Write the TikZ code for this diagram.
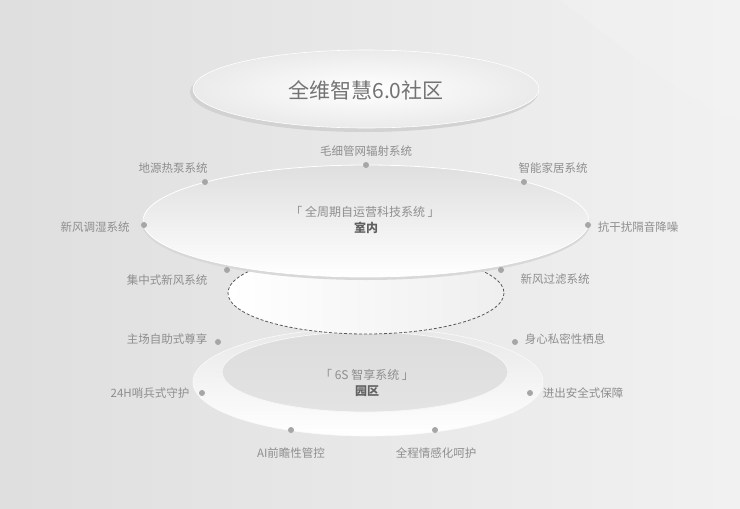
\documentclass[tikz,border=0pt]{standalone}
\usepackage{fontspec}
\newfontfamily\cjk{Noto Sans CJK SC}
\usetikzlibrary{calc}
\definecolor{bggray}{HTML}{E8E8E8}
\definecolor{txtgray}{HTML}{8E8E8E}
\definecolor{dotgray}{HTML}{A6A6A6}
\definecolor{rimgray}{HTML}{D2D2D2}
\tikzset{
  lbl/.style={font=\cjk\fontsize{11.5}{13}\selectfont, text=txtgray, inner sep=0pt},
  dotp/.style={circle, fill=dotgray, minimum size=6pt, inner sep=0pt},
}

\begin{document}
\begin{tikzpicture}[x=1pt, y=-1pt]
			%%%%% START %%%%%
			\useasboundingbox (0, 0) rectangle (740, 509);
			\shade[left color=bggray!96!black, right color=bggray!60!white] (0, 0) rectangle (740, 509);
			\fill[white, opacity=0.12] (560, 0) .. controls (640, 60) and (700, 110) .. (740, 120) -- (740, 0) -- cycle;
			
			%% lower ring (park)
			\shade[top color=bggray, bottom color=white] (368, 382) ellipse [x radius=175, y radius=54];
			\draw[white!80!bggray, line width=0.6pt] (368, 382) ellipse [x radius=175, y radius=54];
			\shade[top color=bggray!95!black, bottom color=bggray!98!black] (365, 372) ellipse [x radius=143, y radius=40];
			\draw[white!60!bggray, line width=0.8pt] (365, 372) ellipse [x radius=143, y radius=40];
			
			%% dashed cylinder body
			\shade[left color=white, middle color=bggray!45!white, right color=bggray!70!white] (366, 293) ellipse [x radius=138, y radius=41];
			\draw[black!65, line width=0.8pt, dash pattern=on 3pt off 2pt] (366, 293) ellipse [x radius=138, y radius=41];
			
			%% main ellipse (indoor)
			\fill[rimgray!70!bggray] (366, 223) ellipse [x radius=224, y radius=57];
			\shade[top color=bggray!96!black, bottom color=white] (366, 221) ellipse [x radius=223, y radius=56];
			\draw[white, line width=0.8pt] (366, 221) ellipse [x radius=223, y radius=56];
			
			%% top ellipse (title)
			\fill[rimgray] (364, 92) ellipse [x radius=174, y radius=40];
			\shade[inner color=white, outer color=bggray!90!white] (366, 89) ellipse [x radius=173, y radius=39];
			\draw[white, line width=0.6pt] (366, 89) ellipse [x radius=173, y radius=39];
			
			\node[font=\cjk\fontsize{21}{24}\selectfont, text=black!55, inner sep=0pt] (title) at (366, 90) {全维智慧6.0社区};
			
			\node[lbl, font=\cjk\fontsize{12}{14}\selectfont] (indoorSys) at (365, 212) {「 全周期自运营科技系统 」};
			\node[lbl, font=\cjk\bfseries\fontsize{12}{14}\selectfont, text=black!62] (indoor) at (366, 228) {室内};
			\node[lbl, font=\cjk\fontsize{12}{14}\selectfont] (parkSys) at (367, 375) {「 6S 智享系统 」};
			\node[lbl, font=\cjk\bfseries\fontsize{12}{14}\selectfont, text=black!62] (park) at (367, 391) {园区};
			
			%% indoor points
			\node[dotp] (dCap) at (366, 165) {};
			\node[lbl] (lCap) at (366, 151) {毛细管网辐射系统};
			\node[dotp] (dGeo) at (205, 182) {};
			\node[lbl] (lGeo) at (173, 168) {地源热泵系统};
			\node[dotp] (dHome) at (524, 182) {};
			\node[lbl] (lHome) at (553, 168) {智能家居系统};
			\node[dotp] (dHum) at (144, 225) {};
			\node[lbl] (lHum) at (95, 227) {新风调湿系统};
			\node[dotp] (dNoise) at (588, 225) {};
			\node[lbl] (lNoise) at (638, 227) {抗干扰隔音降噪};
			\node[dotp] (dCent) at (227, 270) {};
			\node[lbl] (lCent) at (167, 280) {集中式新风系统};
			\node[dotp] (dFilt) at (501, 270) {};
			\node[lbl] (lFilt) at (555, 279) {新风过滤系统};
			
			%% park points
			\node[dotp] (dHost) at (218, 342) {};
			\node[lbl] (lHost) at (167, 339) {主场自助式尊享};
			\node[dotp] (dPriv) at (515, 342) {};
			\node[lbl] (lPriv) at (565, 339) {身心私密性栖息};
			\node[dotp] (dGuard) at (202, 393) {};
			\node[lbl] (lGuard) at (150, 393) {24H哨兵式守护};
			\node[dotp] (dSafe) at (530, 393) {};
			\node[lbl] (lSafe) at (583, 393) {进出安全式保障};
			\node[dotp] (dAI) at (291, 430) {};
			\node[lbl] (lAI) at (291, 453) {AI前瞻性管控};
			\node[dotp] (dCare) at (435, 430) {};
			\node[lbl] (lCare) at (436, 453) {全程情感化呵护};
			%%%%% END %%%%%
\end{tikzpicture}
\end{document}
